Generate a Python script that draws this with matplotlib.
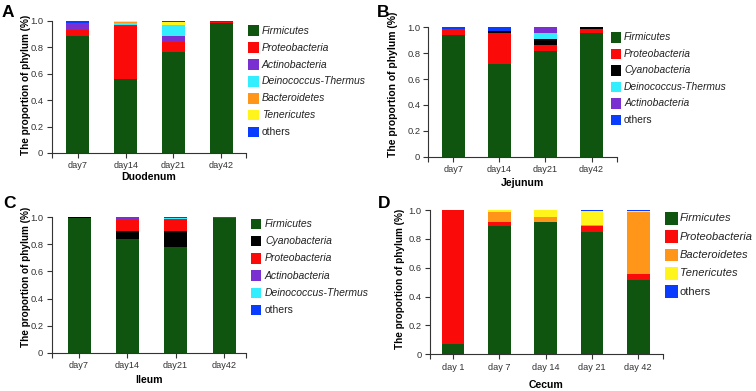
import matplotlib
matplotlib.use("Agg")
import matplotlib.pyplot as plt
import numpy as np
from matplotlib.patches import Rectangle

plt.rcParams['font.family'] = ['Liberation Sans', 'DejaVu Sans']

W, H = 756, 391

# colours per phylum
colors = {
    'Firmicutes': '#0f550f',
    'Proteobacteria': '#fb0a0a',
    'Actinobacteria': '#7a30d0',
    'Deinococcus-Thermus': '#33eeff',
    'Bacteroidetes': '#ff961a',
    'Tenericutes': '#fff51a',
    'Cyanobacteria': '#000000',
    'others': '#0a3cff',
}

# A - Duodenum
days_a = ['day7', 'day14', 'day21', 'day42']
phyla_a = ['Firmicutes', 'Proteobacteria', 'Actinobacteria', 'Deinococcus-Thermus',
           'Bacteroidetes', 'Tenericutes', 'others']
duo_firm = [0.89, 0.56, 0.763, 0.985]
duo_prot = [0.045, 0.40, 0.077, 0.01]
duo_acti = [0.05, 0.012, 0.05, 0.0]
duo_dein = [0.0, 0.012, 0.08, 0.0]
duo_bact = [0.0, 0.008, 0.0, 0.0]
duo_tene = [0.0, 0.008, 0.02, 0.0]
duo_othr = [0.015, 0.0, 0.01, 0.005]

# B - Jejunum
days_b = ['day7', 'day14', 'day21', 'day42']
phyla_b = ['Firmicutes', 'Proteobacteria', 'Cyanobacteria', 'Deinococcus-Thermus',
           'Actinobacteria', 'others']
jej_firm = [0.94, 0.72, 0.82, 0.955]
jej_prot = [0.045, 0.235, 0.04, 0.03]
jej_cyan = [0.0, 0.015, 0.05, 0.015]
jej_dein = [0.002, 0.005, 0.044, 0.0]
jej_acti = [0.003, 0.0, 0.046, 0.0]
jej_othr = [0.01, 0.025, 0.0, 0.0]

# C - Ileum
days_c = ['day7', 'day14', 'day21', 'day42']
phyla_c = ['Firmicutes', 'Cyanobacteria', 'Proteobacteria', 'Actinobacteria',
           'Deinococcus-Thermus', 'others']
ile_firm = [0.995, 0.842, 0.783, 0.993]
ile_cyan = [0.005, 0.054, 0.117, 0.0]
ile_prot = [0.0, 0.086, 0.08, 0.007]
ile_acti = [0.0, 0.017, 0.005, 0.0]
ile_dein = [0.0, 0.0, 0.01, 0.0]
ile_othr = [0.0, 0.001, 0.005, 0.0]

# D - Cecum
days_d = ['day 1', 'day 7', 'day 14', 'day 21', 'day 42']
phyla_d = ['Firmicutes', 'Proteobacteria', 'Bacteroidetes', 'Tenericutes', 'others']
cec_firm = [0.071, 0.889, 0.915, 0.845, 0.515]
cec_prot = [0.929, 0.03, 0.0, 0.045, 0.04]
cec_bact = [0.0, 0.065, 0.035, 0.008, 0.434]
cec_tene = [0.0, 0.016, 0.05, 0.097, 0.004]
cec_othr = [0.0, 0.0, 0.0, 0.005, 0.007]

yticks = [0, 0.2, 0.4, 0.6, 0.8, 1.0]
ytick_labels = ['0', '0.2', '0.4', '0.6', '0.8', '1.0']

fig = plt.figure(figsize=(W / 100, H / 100), dpi=100)
AX = '#333333'


def px_axes(x0, x1, y0, y1):
    return fig.add_axes([x0 / W, 1 - y1 / H, (x1 - x0) / W, (y1 - y0) / H])


def panel(box, days, phyla, series, xlim, width, xlabel, ylab_pos, xlab_y, ylab_fs=7.2):
    ax = px_axes(*box)
    x = np.arange(len(days))
    bottom = np.zeros(len(days))
    for name, vals in zip(phyla, series):
        ax.bar(x, vals, width=width, bottom=bottom, color=colors[name], linewidth=0)
        bottom += np.array(vals)
    ax.set_xlim(*xlim)
    ax.set_ylim(0, 1.0)
    for s in ['top', 'right']:
        ax.spines[s].set_visible(False)
    for s in ['left', 'bottom']:
        ax.spines[s].set_linewidth(0.8)
        ax.spines[s].set_color(AX)
    ax.set_xticks(x)
    ax.set_xticklabels(days, fontsize=6.6, color=AX)
    ax.set_xticks(list(xlim), minor=True)
    ax.set_yticks(yticks)
    ax.set_yticklabels(ytick_labels, fontsize=6.7, color=AX)
    ax.tick_params(which='both', length=3.5, width=0.8, color=AX, pad=2.5)
    ax.set_xlabel(xlabel, fontsize=7.6, fontweight='bold')
    ax.xaxis.set_label_coords(0.5, xlab_y)
    ax.xaxis.label.set_va('center')
    ax.set_ylabel('The proportion of phylum (%)', fontsize=ylab_fs, fontweight='bold')
    ax.yaxis.set_label_coords(*ylab_pos)
    ax.yaxis.label.set_va('center')
    return ax


def legend(phyla, sq_x0, sq_x1, y0, dy, tx, fs, sq_h):
    for i, name in enumerate(phyla):
        y = y0 + i * dy
        fig.patches.append(Rectangle((sq_x0 / W, 1 - (y + sq_h / 2) / H),
                                     (sq_x1 - sq_x0) / W, sq_h / H,
                                     transform=fig.transFigure, color=colors[name],
                                     linewidth=0))
        fig.text(tx / W, 1 - y / H, name, fontsize=fs, va='center', ha='left',
                 style='normal' if name == 'others' else 'italic', color='#222222')


# A
panel((51.7, 246, 21, 153), days_a, phyla_a,
      [duo_firm, duo_prot, duo_acti, duo_dein, duo_bact, duo_tene, duo_othr],
      (-0.55, 3.52), 0.48, 'Duodenum', (-0.132, 0.515), -(177 - 153) / 132)
legend(phyla_a, 248, 259, 30.7, 16.9, 262, 7.5, 10.5)

# B
panel((428.5, 617.3, 27.3, 156.7), days_b, phyla_b,
      [jej_firm, jej_prot, jej_cyan, jej_dein, jej_acti, jej_othr],
      (-0.54, 3.56), 0.5, 'Jejunum', (-0.188, 0.56), -(183 - 156.7) / 129.4, 7.5)
legend(phyla_b, 611, 620.7, 37.3, 16.5, 624, 7.4, 10.5)

# C
panel((51.7, 246, 217.3, 352.7), days_c, phyla_c,
      [ile_firm, ile_cyan, ile_prot, ile_acti, ile_dein, ile_othr],
      (-0.565, 3.455), 0.476, 'Ileum', (-0.132, 0.56), -(380 - 352.7) / 135.4)
legend(phyla_c, 250.7, 261, 224, 17.2, 265, 7.5, 10.5)

# D
panel((430, 662.7, 210, 354.3), days_d, phyla_d,
      [cec_firm, cec_prot, cec_bact, cec_tene, cec_othr],
      (-0.5, 4.53), 0.49, 'Cecum', (-0.129, 0.525), -(385 - 354.3) / 144.3)
legend(phyla_d, 665, 677.7, 218.3, 18.35, 680, 8.0, 12.5)

# panel letters
for letter, lx, ly in [('A', 2, 16.7), ('B', 377, 16.7), ('C', 3, 208.3), ('D', 378, 208)]:
    fig.text(lx / W, 1 - ly / H, letter, fontsize=12.5, fontweight='bold',
             va='baseline', ha='left')

fig.savefig('out.png', dpi=100)
